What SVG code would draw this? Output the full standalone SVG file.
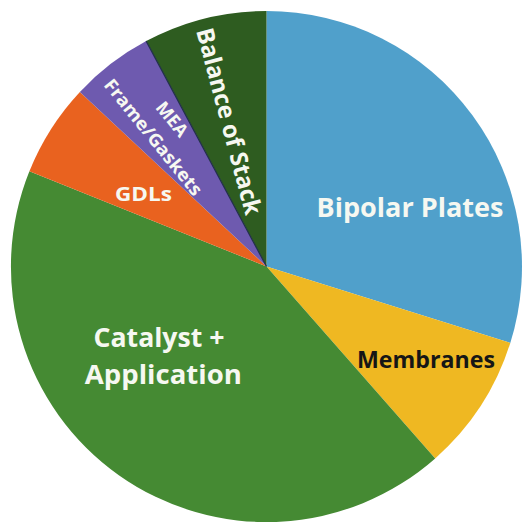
<svg xmlns="http://www.w3.org/2000/svg" width="523" height="522" viewBox="0 0 523 522">
  <style>
    .lbl { font-family: "Open Sans", "Liberation Sans", sans-serif; font-weight: 700; fill: #f6f8f1; }
    .dark { fill: #161616; }
    .slice { stroke: none; }
  </style>
  <rect x="0" y="0" width="523" height="522" fill="#ffffff"/>
  <g id="bipolar-plates">
    <path class="slice" fill="#50a0cb" d="M266.5,266.5 L266.5,11 A255.5,255.5 0 0 1 510.3,342.9 Z"/>
    <text class="lbl" x="410" y="216.5" font-size="27" text-anchor="middle" textLength="187" lengthAdjust="spacingAndGlyphs">Bipolar Plates</text>
  </g>
  <g id="membranes">
    <path class="slice" fill="#efb822" d="M266.5,266.5 L510.3,342.9 A255.5,255.5 0 0 1 435.2,458.4 Z"/>
    <text class="lbl dark" x="426" y="368.3" font-size="23" text-anchor="middle" textLength="138" lengthAdjust="spacingAndGlyphs">Membranes</text>
  </g>
  <g id="catalyst-application">
    <path class="slice" fill="#458a33" d="M266.5,266.5 L435.2,458.4 A255.5,255.5 0 0 1 29.4,171.2 Z"/>
    <text class="lbl" font-size="27" text-anchor="middle">
      <tspan x="162.5" y="346.5" textLength="131" lengthAdjust="spacingAndGlyphs">Catalyst +</tspan>
      <tspan x="163.3" y="384" textLength="157" lengthAdjust="spacingAndGlyphs">Application</tspan>
    </text>
  </g>
  <g id="gdls">
    <path class="slice" fill="#e9621f" d="M266.5,266.5 L29.4,171.2 A255.5,255.5 0 0 1 79.9,91.9 Z"/>
    <text class="lbl" x="143.4" y="201" font-size="20" text-anchor="middle" textLength="57" lengthAdjust="spacingAndGlyphs">GDLs</text>
  </g>
  <g id="mea-frame-gaskets">
    <path class="slice" fill="#6e5aaf" d="M266.5,266.5 L79.9,91.9 A255.5,255.5 0 0 1 146.2,41.1 Z"/>
    <text class="lbl" font-size="18" text-anchor="middle" transform="translate(158.5,133) rotate(51)">
      <tspan x="0" y="-13">MEA</tspan>
      <tspan x="0" y="13" textLength="144" lengthAdjust="spacingAndGlyphs">Frame/Gaskets</tspan>
    </text>
  </g>
  <g id="balance-of-stack">
    <path class="slice" fill="#2e5c20" d="M266.5,266.5 L146.2,41.1 A255.5,255.5 0 0 1 266.5,11 Z"/>
    <line x1="266.5" y1="266.5" x2="146.2" y2="41.1" stroke="#22304a" stroke-width="1.3"/>
    <text class="lbl" font-size="24" text-anchor="middle" transform="translate(220.9,123.6) rotate(75)" textLength="192" lengthAdjust="spacingAndGlyphs">Balance of Stack</text>
  </g>
</svg>
